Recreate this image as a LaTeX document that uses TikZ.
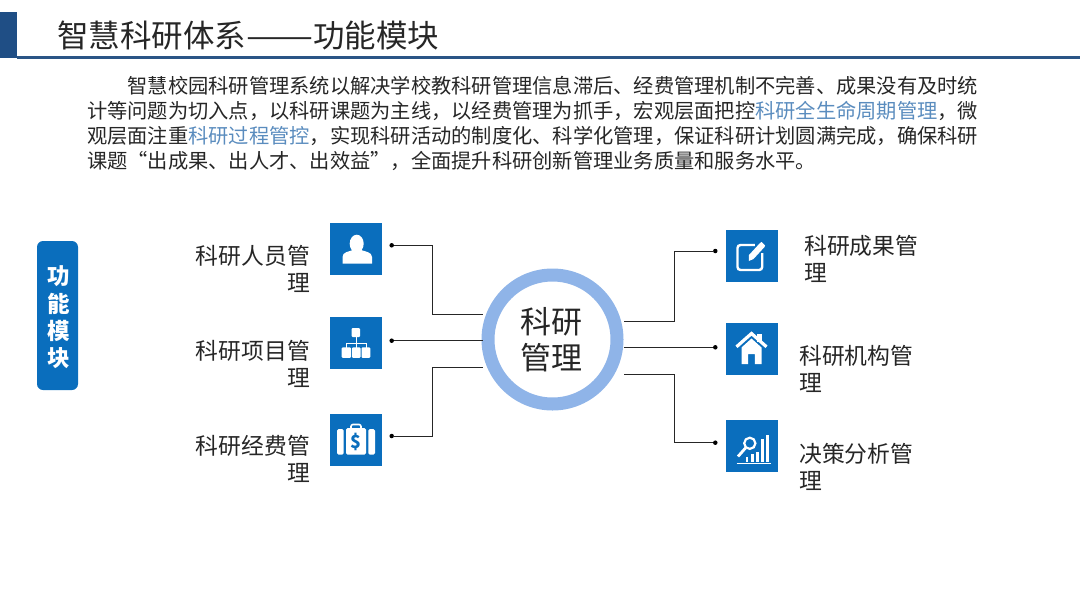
\documentclass[tikz,border=0pt]{standalone}
\usepackage{xcolor}
\usepackage{fontspec}
\setmainfont{Noto Sans CJK SC}
\usetikzlibrary{positioning}
\definecolor{kyBlue}    {RGB}{ 10,110,189}
\definecolor{kyNavy}    {RGB}{ 31, 78,133}
\definecolor{kyRule}    {RGB}{ 42, 85,134}
\definecolor{kyRing}    {RGB}{143,180,232}
\definecolor{kyLink}    {RGB}{ 90,140,190}
\definecolor{kyInk}     {RGB}{ 38, 38, 38}
\begin{document}
\begin{tikzpicture}[
  x=1pt,y=-1pt,
  every node/.style={text=kyInk,inner sep=0pt},
  icon/.style={fill=kyBlue,minimum size=52pt},
  pin/.style={circle,fill=black,minimum size=4.5pt},
  wire/.style={draw=kyInk,line width=0.9pt},
  glyph/.style={fill=white,draw=none},
  stroke/.style={draw=white,line width=2.4pt},
  lab/.style={font=\fontsize{22.8}{27}\selectfont},
  labL/.style={lab,align=right,anchor=east},
  labR/.style={lab,align=left,anchor=west}
]
\useasboundingbox (0,0) rectangle (1080,608);
% header
\fill[kyNavy] (0,12) rectangle (17,58);
\draw[kyRule,line width=2.4pt] (17,57.5) -- (1080,57.5);
\node[anchor=west,font=\fontsize{31.5}{36}\selectfont] (title) at (57,36) {智慧科研体系\scalebox{1.27}[1]{——}功能模块};
\node[anchor=north west,align=left,font=\fontsize{20.25}{25}\selectfont] (intro) at (87,76) {\hspace*{40.5pt}智慧校园科研管理系统以解决学校教科研管理信息滞后、经费管理机制不完善、成果没有及时统\\
计等问题为切入点，以科研课题为主线，以经费管理为抓手，宏观层面把控\textcolor{kyLink}{科研全生命周期管理}，微\\
观层面注重\textcolor{kyLink}{科研过程管控}，实现科研活动的制度化、科学化管理，保证科研计划圆满完成，确保科研\\
课题“出成果、出人才、出效益”，全面提升科研创新管理业务质量和服务水平。};
% side tag
\node[fill=kyBlue,rounded corners=6pt,minimum width=41pt,minimum height=149pt] (tag) at (57.5,315.5) {};
\node[text=white,align=center,font=\fontsize{22.5}{27.3}\selectfont\bfseries] (tagText) at (59,317.5) {功\\能\\模\\块};
% hub
\node[circle,draw=kyRing,line width=13pt,minimum size=129pt,fill=white] (hub) at (552.5,339.5) {};
\node[align=center,font=\fontsize{31}{36}\selectfont] (hubText) at (551,340) {科研\\管理};
% icons
\node[icon] (iconA) at (356,249) {};
\node[icon] (iconB) at (356,343) {};
\node[icon] (iconC) at (356,440) {};
\node[icon] (iconD) at (751.5,256) {};
\node[icon] (iconE) at (751.5,348.5) {};
\node[icon] (iconF) at (751.5,446) {};
% labels
\node[labL] (labA) at (310,268.5) {科研人员管\\理};
\node[labL] (labB) at (310,363.5) {科研项目管\\理};
\node[labL] (labC) at (310,458.5) {科研经费管\\理};
\node[labR] (labD) at (804,258.5) {科研成果管\\理};
\node[labR] (labE) at (799,368.5) {科研机构管\\理};
\node[labR] (labF) at (799,466.5) {决策分析管\\理};
% pins and elbows
\node[pin] (pinA) at (391.7,245.3) {};
\node[pin] (pinB) at (391.7,340.7) {};
\node[pin] (pinC) at (391.7,436) {};
\node[pin] (pinD) at (715.3,251) {};
\node[pin] (pinE) at (715.3,347.3) {};
\node[pin] (pinF) at (715.3,442.7) {};
\coordinate (hubA) at (483,314.3);
\coordinate (hubB) at (483,340.7);
\coordinate (hubC) at (483,367.7);
\coordinate (hubD) at (624,321);
\coordinate (hubE) at (624,347.3);
\coordinate (hubF) at (624,374.3);
\coordinate (elbowA) at (432.5,314.3);
\coordinate (elbowC) at (432.5,367.7);
\coordinate (elbowD) at (674,321);
\coordinate (elbowF) at (674,374.3);

\draw[wire] (pinA) -| (elbowA) -- (hubA);
\draw[wire] (pinB) -- (hubB);
\draw[wire] (pinC) -| (elbowC) -- (hubC);
\draw[wire] (hubD) -- (elbowD) |- (pinD);
\draw[wire] (hubE) -- (pinE);
\draw[wire] (hubF) -- (elbowF) |- (pinF);

% person
\begin{scope}[shift={(iconA.center)}]
  \fill[glyph] (0.7,-5.3) ellipse (7 and 9);
  \fill[glyph] (-13.5,14.7) -- (-13.5,8) .. controls (-13.5,3) and (-7,2.5) .. (-3,1) -- (5,1) .. controls (9,2.5) and (16,3) .. (16,8) -- (16,14.7) -- cycle;
\end{scope}
% org chart
\begin{scope}[shift={(iconB.center)}]
  \fill[glyph,rounded corners=1pt] (-4.3,-15) rectangle (4,-6);
  \draw[white,line width=1pt] (0,-6) -- (0,5.5) (-10,5.5) -- (-10,0.5) -- (10,0.5) -- (10,5.5);
  \fill[glyph,rounded corners=1pt] (-14.3,4.3) rectangle (-5,14.8);
  \fill[glyph,rounded corners=1pt] (-4,4.3) rectangle (4.5,14.8);
  \fill[glyph,rounded corners=1pt] (5.5,4.3) rectangle (14.3,14.8);
\end{scope}
% briefcase
\begin{scope}[shift={(iconC.center)}]
  \fill[glyph,rounded corners=1.5pt] (-19,-11) rectangle (-12.3,14.7);
  \fill[glyph,rounded corners=1.5pt] (12.3,-11) rectangle (19,14.7);
  \fill[glyph,rounded corners=1.5pt] (-10,-12) rectangle (10,14.7);
  \draw[white,line width=1.6pt,rounded corners=2pt] (-5,-12) -- (-5,-15.5) -- (5,-15.5) -- (5,-12);
  \node[text=kyBlue,font=\fontsize{18}{18}\selectfont\bfseries] (iconCsign) at (0,1.5) {\$};
\end{scope}
% edit
\begin{scope}[shift={(iconD.center)}]
  \draw[stroke,rounded corners=3pt] (3.3,-11) -- (-14,-11) -- (-14,14) -- (10.7,14) -- (10.7,-3);
  \fill[glyph] (-2.7,5) -- (-2.5,-1) -- (8.5,-13) -- (10,-14) -- (13.5,-10.5) -- (13,-9) -- (2,3) -- cycle;
\end{scope}
% house
\begin{scope}[shift={(iconE.center)}]
  \fill[glyph] (5,-14.7) rectangle (10,-7);
  \draw[white,line width=3.2pt] (-15,-1.7) -- (0,-15) -- (15,-1.7);
  \fill[glyph] (-10,-1) -- (0,-10) -- (10,-1) -- (10,15.6) -- (3.3,15.6) -- (3.3,5.6) -- (-3.3,5.6) -- (-3.3,15.6) -- (-10,15.6) -- cycle;
\end{scope}
% chart
\begin{scope}[shift={(iconF.center)}]
  \draw[white,line width=1.5pt] (-15,17.7) -- (19.3,17.7);
  \fill[glyph] (-6,11) rectangle (-3.3,16);
  \fill[glyph] (-0.7,8.3) rectangle (2.3,16);
  \fill[glyph] (4.3,6) rectangle (7.3,16);
  \fill[glyph] (9.3,-6.7) rectangle (12.3,16);
  \fill[glyph] (14.3,-11) rectangle (17.7,16);
  \draw[white,line width=2.2pt] (-1.7,-2.7) circle (5.6);
  \draw[white,line width=2.8pt] (-5.8,1.8) -- (-13.5,10.5);
\end{scope}
\end{tikzpicture}
\end{document}
